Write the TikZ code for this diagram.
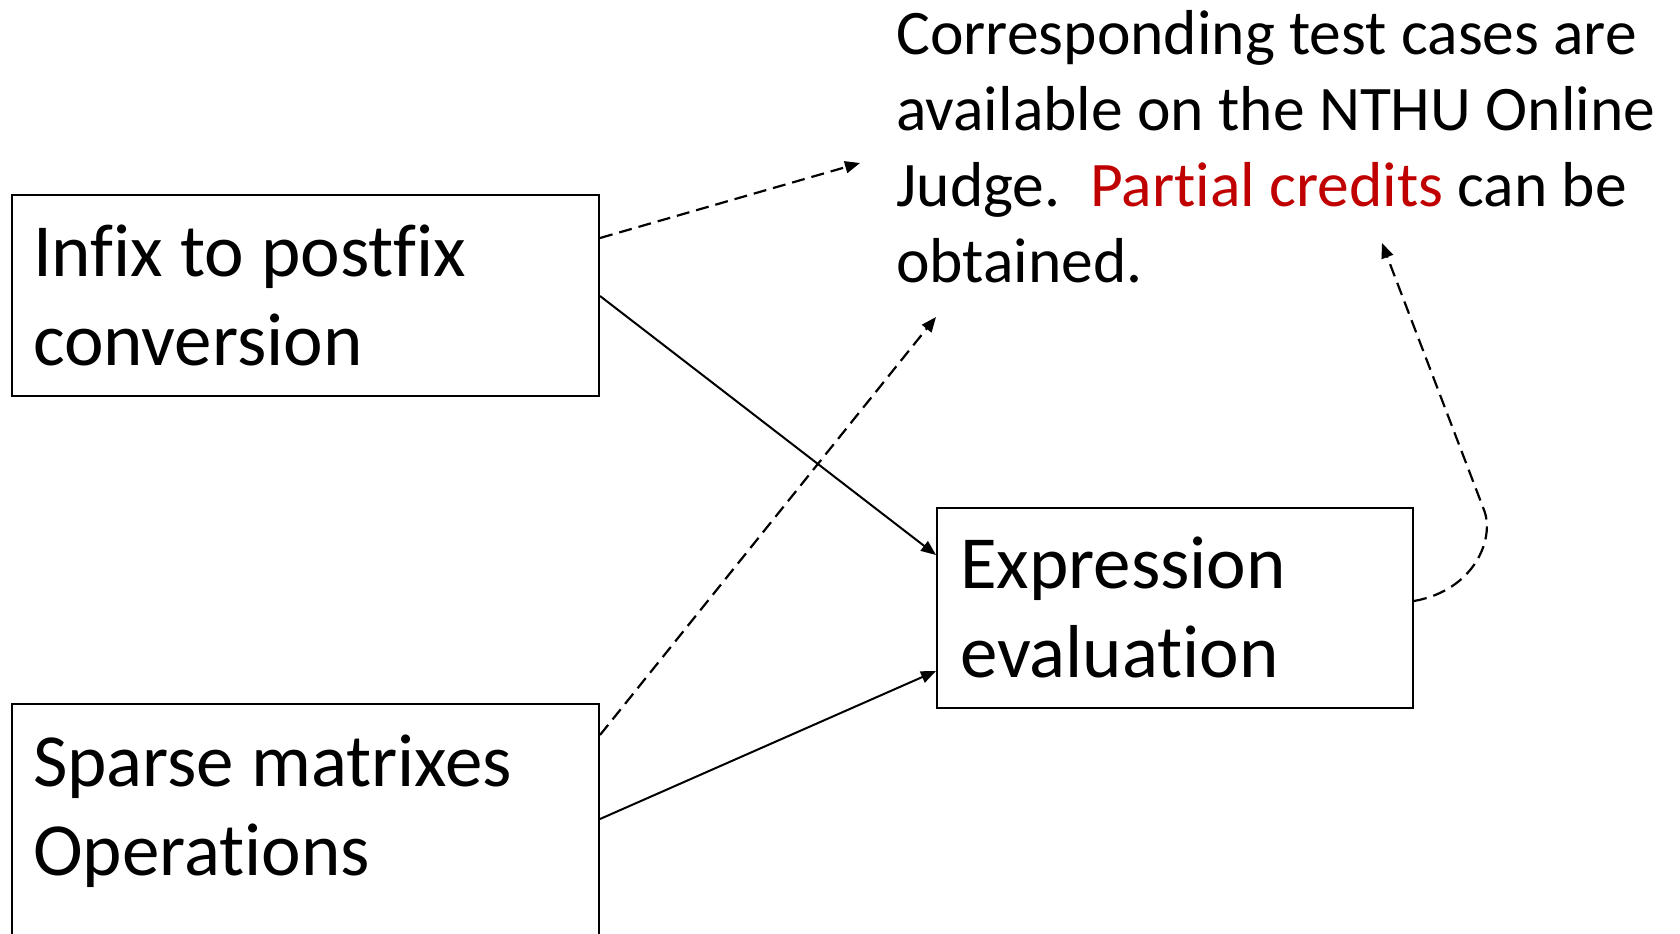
\documentclass[tikz,border=0pt]{standalone}
\usepackage{fontspec}
\setmainfont{Carlito}[Ligatures=NoCommon]
\usepackage{tikz}
\usetikzlibrary{arrows.meta,calc,positioning}
\definecolor{creditred}{RGB}{192,0,0}
\tikzset{
    taskbox/.style={draw=black,line width=1pt,anchor=north west,inner ysep=0pt,
        align=flush left,font=\fontsize{37.5}{44.5}\selectfont},
    notetext/.style={anchor=base west,inner sep=0pt,align=flush left,text width=400pt,
        font=\fontsize{31.75}{38}\selectfont},
    solidarrow/.style={line width=1pt,-{Triangle[length=7.5pt,width=6pt]}},
    dasharrow/.style={solidarrow,line width=1.1pt,dash pattern=on 6.5pt off 3.5pt}
}

\begin{document}
\begin{tikzpicture}[x=0.5pt,y=-0.5pt]
  \useasboundingbox (0,0) rectangle (1680,933);

  % 三个任务
  \node[taskbox,inner xsep=10.5pt,text width=272.5pt,text height=40.5pt,text depth=60pt]
    (infix) at (11,194) {Infix to postfix\\conversion};
  \node[taskbox,inner xsep=10.5pt,text width=272.5pt,text height=41pt,text depth=90pt]
    (sparse) at (11,703) {Sparse matrixes\\Operations};
  \node[taskbox,inner xsep=11.5pt,text width=215pt,text height=40pt,text depth=60pt]
    (eval) at (936,507) {Expression\\evaluation};

  % 说明
  \node[notetext] (note) at (896,54)
    {Corresponding test cases are\\available on the NTHU Online\\
     Judge.\hspace{0.47em}\textcolor{creditred}{Partial credits} can be\\obtained.};

  % 箭头终点
  \coordinate (tipA) at (860,163);
  \coordinate (tipB) at (936,317);
  \coordinate (tipC) at (1382,243);

  % 实线
  \draw[solidarrow] ([yshift=-51pt]infix.north east) -- ([yshift=-24pt]eval.north west);
  \draw[solidarrow] ([yshift=-58pt]sparse.north east) -- ([yshift=-82pt]eval.north west);

  % 虚线
  \draw[dasharrow] ([yshift=-22pt]infix.north east) -- (tipA);
  \draw[dasharrow] ([yshift=-16pt]sparse.north east) -- (tipB);
  \draw[dasharrow] ([yshift=-47pt]eval.north east)
    .. controls (1475,590) and (1495,538) .. (1484,510) -- (tipC);
\end{tikzpicture}
\end{document}
